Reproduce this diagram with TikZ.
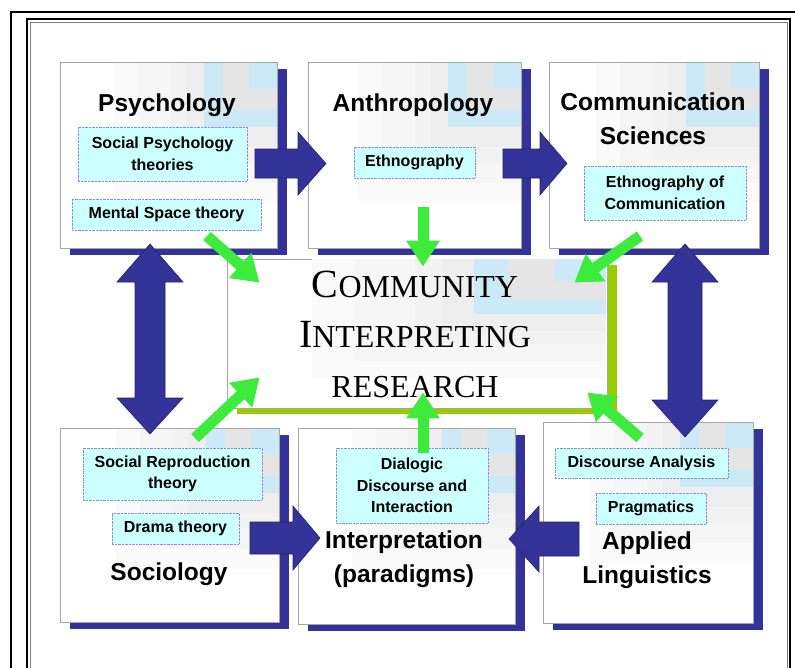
\documentclass[tikz,border=0pt]{standalone}
\usepackage{fontspec}
\setmainfont{Liberation Serif}
\newfontfamily\arialfont{Liberation Sans}
\usetikzlibrary{arrows.meta,shadows,calc}
\definecolor{navy}{RGB}{51,51,153}
\definecolor{leaf}{RGB}{61,235,61}
\definecolor{lime}{RGB}{153,204,0}
\definecolor{skyish}{RGB}{204,233,248}
\definecolor{topicfill}{RGB}{204,255,255}
\definecolor{topicline}{RGB}{140,140,210}
% pale chequered shading in the top right corner of a box
\newcommand{\mosaic}[3]{%
  \begin{scope}[shift={(#1.north east)}, xscale=#2, yscale=#3]
    \fill[gray!4] (-164,1) rectangle (-1,141);
    \fill[gray!7] (-140,1) rectangle (-1,121);
    \fill[gray!10] (-107,1) rectangle (-1,100);
    \fill[gray!13] (-92,1) rectangle (-1,85);
    \fill[skyish] (-74,1) rectangle (-1,65);
    \fill[gray!20] (-55,1) rectangle (-1,48);
    \fill[skyish] (-29,1) rectangle (-1,26);
  \end{scope}}
\begin{document}
\begin{tikzpicture}[x=1pt, y=-1pt,
  discipline/.style={draw=gray!70, line width=1pt, fill=white,
    drop shadow={shadow xshift=10pt, shadow yshift=-7pt, fill=navy, opacity=1}},
  hub/.style={draw=gray!70, line width=0.8pt, fill=white,
    drop shadow={shadow xshift=10pt, shadow yshift=-6pt, fill=lime, opacity=1}},
  heading/.style={font=\arialfont\bfseries\fontsize{24.5}{34}\selectfont, align=center, inner sep=0pt, anchor=base},
  topic/.style={draw=topicline, densely dotted, fill=topicfill, inner sep=0pt,
    font=\arialfont\bfseries\fontsize{16}{21.5}\selectfont, align=center},
  bolt/.style={fill=navy, draw=navy!70!black, line width=0.6pt},
  feed/.style={leaf, line width=11pt, -{Triangle[width=32pt,length=26pt]}}]
\useasboundingbox (0,0) rectangle (795,667);
\clip (0,0) rectangle (795,667);
% frame
\draw[line width=2.5pt] (11,12) rectangle (830,720);
\draw[line width=2pt] (27,19) rectangle (790,720);
\draw[gray, line width=0.6pt] (30,22) rectangle (787,720);

% boxes
\node[discipline, minimum width=217pt, minimum height=186pt] (psy) at (168.5,155) {};
\node[discipline, minimum width=213pt, minimum height=186pt] (anth) at (414.5,155) {};
\node[discipline, minimum width=210pt, minimum height=186pt] (comm) at (654,155) {};
\node[discipline, minimum width=219pt, minimum height=194pt] (soc) at (169.5,525) {};
\node[discipline, minimum width=217pt, minimum height=196pt] (intp) at (406.5,526) {};
\node[discipline, minimum width=210pt, minimum height=201pt] (appl) at (648,522.5) {};
\node[hub, minimum width=380pt, minimum height=149pt] (cir) at (417,333.5) {};

\mosaic{psy}{1}{1}
\mosaic{anth}{1}{1}
\mosaic{comm}{1}{1}
\mosaic{soc}{1}{1}
\mosaic{intp}{1}{1}
\mosaic{appl}{1}{1}
\mosaic{cir}{1.8}{0.85}

% titles (base = baseline of the last line)
\node[heading] (psytitle) at (167,111) {Psychology};
\node[heading] (anthtitle) at (413,111) {Anthropology};
\node[heading] (commtitle) at (653,144) {Communication\\Sciences};
\node[heading] (soctitle) at (169,580) {Sociology};
\node[heading] (intptitle) at (404,582) {Interpretation\\(paradigms)};
\node[heading] (appltitle) at (647,583) {Applied\\Linguistics};
\node[font=\fontsize{32}{50}\selectfont, align=center, inner sep=0pt, anchor=base] (cirtitle) at (415,397)
  {{\fontsize{40}{50}\selectfont C}OMMUNITY\\{\fontsize{40}{50}\selectfont I}NTERPRETING\\RESEARCH};

% topics
\node[topic, minimum width=169pt, minimum height=54pt] (socpsy) at (162.5,154) {Social Psychology\\theories};
\node[topic, minimum width=189pt, minimum height=31pt] (mental) at (166.5,214.5) {Mental Space theory};
\node[topic, minimum width=121pt, minimum height=31pt] (ethno) at (414.5,162.5) {Ethnography};
\node[topic, minimum width=162pt, minimum height=54pt] (ethcom) at (665,193) {Ethnography of\\Communication};
\node[topic, minimum width=179pt, minimum height=52pt] (socrep) at (172.5,474) {Social Reproduction\\theory};
\node[topic, minimum width=127pt, minimum height=31pt] (drama) at (175.5,528.5) {Drama theory};
\node[topic, minimum width=152pt, minimum height=75pt] (dialog) at (412,485.5) {Dialogic\\Discourse and\\Interaction};
\node[topic, minimum width=173pt, minimum height=30pt] (discan) at (641.5,463) {Discourse Analysis};
\node[topic, minimum width=110pt, minimum height=31pt] (prag) at (651,508.5) {Pragmatics};

% block arrows
\draw[bolt] (255,149) -- (298,149) -- (298,132) -- (326,163.5) -- (298,195) -- (298,178) -- (255,178) -- cycle;
\draw[bolt] (503,149) -- (540,149) -- (540,132) -- (567,163.5) -- (540,195) -- (540,178) -- (503,178) -- cycle;
\draw[bolt] (250,522) -- (293,522) -- (293,506) -- (320,538) -- (293,570) -- (293,554) -- (250,554) -- cycle;
\draw[bolt] (579,522) -- (539,522) -- (539,506) -- (509,539) -- (539,572) -- (539,556) -- (579,556) -- cycle;
\draw[bolt] (150,244) -- (183,282) -- (165,282) -- (165,398) -- (183,398) -- (150,434) -- (117,398) -- (135,398) -- (135,282) -- (117,282) -- cycle;
\draw[bolt] (685,244) -- (718,282) -- (702,282) -- (702,400) -- (718,400) -- (685,437) -- (652,400) -- (668,400) -- (668,282) -- (652,282) -- cycle;

% green arrows into the centre
\coordinate (fpsy) at (207,236);
\coordinate (fanth) at (423,207);
\coordinate (fcomm) at (640,236);
\coordinate (fsoc) at (195,438);
\coordinate (fintp) at (423,453);
\coordinate (fappl) at (640,438);
\draw[feed] (fpsy) -- ($(cir.north west)+(33,24)$);
\draw[feed] (fanth) -- ($(cir.north)+(6,8)$);
\draw[feed] (fcomm) -- ($(cir.north east)+(-33,24)$);
\draw[feed] (fsoc) -- ($(cir.south west)+(33,-31)$);
\draw[feed] (fintp) -- ($(cir.south)+(6,-16)$);
\draw[feed] (fappl) -- ($(cir.south east)+(-20,-16)$);
\end{tikzpicture}
\end{document}
